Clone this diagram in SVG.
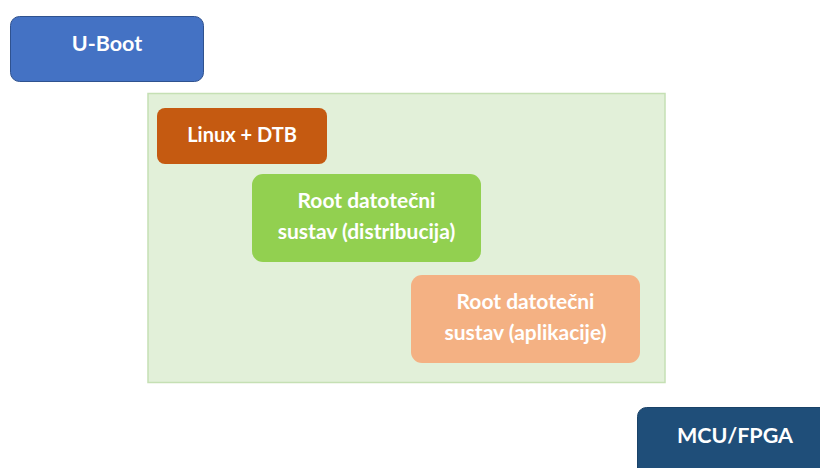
<svg xmlns="http://www.w3.org/2000/svg" width="820" height="468" viewBox="0 0 820 468">
<style>
text{font-family:Lato,"Open Sans","Liberation Sans",sans-serif;font-weight:bold;fill:#fff;text-anchor:middle}
.t22{font-size:21.5px}
.t20{font-size:20px}
.t21{font-size:21px}
</style>
<rect width="820" height="468" fill="#fff"/>
<g id="uboot">
<rect x="10.5" y="16.5" width="193" height="65" rx="9" fill="#4472C4" stroke="#2F528F" stroke-width="1"/>
<text class="t22" x="107" y="51">U-Boot</text>
</g>
<g id="container">
<rect x="148" y="93.5" width="517" height="289" fill="#E2F0D9" stroke="#C5E0B4" stroke-width="1.5"/>
</g>
<g id="linux">
<rect x="157" y="108" width="170" height="56" rx="8" fill="#C55A11"/>
<text class="t20" x="242" y="142">Linux + DTB</text>
</g>
<g id="rootfs-dist">
<rect x="252" y="174" width="229" height="88" rx="11" fill="#92D050"/>
<text class="t21" x="366.5" y="208">Root datotečni</text>
<text class="t21" x="366.5" y="239">sustav (distribucija)</text>
</g>
<g id="rootfs-app">
<rect x="411" y="275" width="229" height="88" rx="11" fill="#F4B183"/>
<text class="t21" x="525.5" y="309">Root datotečni</text>
<text class="t21" x="525.5" y="340">sustav (aplikacije)</text>
</g>
<g id="mcu">
<rect x="637.5" y="407.5" width="200" height="80" rx="9" fill="#1F4E79" stroke="#1a4268" stroke-width="1"/>
<text class="t22" x="735" y="443">MCU/FPGA</text>
</g>
<g id="connectors"></g>
</svg>
